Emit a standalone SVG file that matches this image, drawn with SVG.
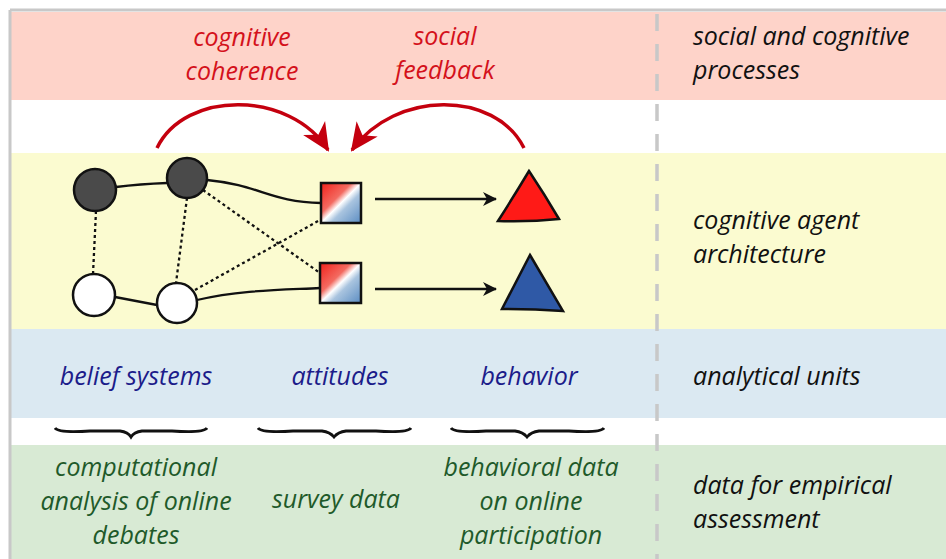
<svg xmlns="http://www.w3.org/2000/svg" width="946" height="559" viewBox="0 0 946 559">
<defs>
<style>
.t{font-family:"Open Sans","Liberation Sans",sans-serif;font-style:italic;font-size:25px}
.blk{fill:#111}
.red{fill:#d4111b}
.nav{fill:#1c1c8a}
.grn{fill:#1f5a2a}
.mid{text-anchor:middle}
.edge{fill:none;stroke:#111;stroke-width:2.3}
.dot{fill:none;stroke:#111;stroke-width:2.3;stroke-dasharray:3 3}
.node{stroke:#111;stroke-width:2.5}
.brace{fill:none;stroke:#111;stroke-width:2.8}
</style>
<linearGradient id="g" x1="0" y1="0" x2="1" y2="1">
<stop offset="0" stop-color="#f0201a"/>
<stop offset="0.38" stop-color="#f36a60"/>
<stop offset="0.5" stop-color="#ffffff"/>
<stop offset="0.62" stop-color="#a9c4df"/>
<stop offset="1" stop-color="#5a8cc2"/>
</linearGradient>
<marker id="ah" markerWidth="14" markerHeight="14" refX="13" refY="7" orient="auto" markerUnits="userSpaceOnUse">
<path d="M0,0 L14,7 L0,14 L4,7 Z" fill="#111"/>
</marker>
<marker id="rh" markerWidth="28" markerHeight="28" refX="26" refY="14" orient="auto" markerUnits="userSpaceOnUse">
<path d="M0,1 L28,14 L0,27 L8,14 Z" fill="#c4000e"/>
</marker>
</defs>
<g id="bands">
<rect x="0" y="0" width="946" height="559" fill="#ffffff"/>
<rect x="11" y="12" width="935" height="88" fill="#fed3c9"/>
<rect x="11" y="153" width="935" height="176" fill="#fbfbd0"/>
<rect x="11" y="329" width="935" height="89" fill="#dbe9f2"/>
<rect x="11" y="445" width="935" height="114" fill="#d8ead4"/>
<line x1="10" y1="10" x2="946" y2="10" stroke="#c8c8c8" stroke-width="3"/>
<line x1="10" y1="10" x2="10" y2="559" stroke="#c8c8c8" stroke-width="3"/>
<line x1="657" y1="14" x2="657" y2="559" stroke="#c8c8c8" stroke-width="3.5" stroke-dasharray="17 13"/>
</g>
<g id="labels-right">
<text class="t blk" x="693" y="45">social and cognitive</text>
<text class="t blk" x="693" y="79">processes</text>
<text class="t blk" x="693" y="229">cognitive agent</text>
<text class="t blk" x="693" y="263">architecture</text>
<text class="t blk" x="693" y="385">analytical units</text>
<text class="t blk" x="693" y="494">data for empirical</text>
<text class="t blk" x="693" y="528">assessment</text>
</g>
<g id="connectors">
<path class="edge" d="M116,187 Q140,184 167,183"/>
<path class="edge" d="M207,180 C260,185 270,202 321,203"/>
<path class="dot" d="M203,190 L320,273"/>
<path class="dot" d="M96,211 L93,274"/>
<path class="dot" d="M187,198 L176,283"/>
<path class="dot" d="M195,290 L320,220"/>
<path class="edge" d="M115,297 L157,305"/>
<path class="edge" d="M197,300 C240,290 280,290 320,288"/>
<line class="edge" x1="375" y1="199" x2="496" y2="199" marker-end="url(#ah)"/>
<line class="edge" x1="375" y1="289" x2="496" y2="289" marker-end="url(#ah)"/>
<path d="M157,148 C185,90 290,90 328,150" fill="none" stroke="#c4000e" stroke-width="3.5" marker-end="url(#rh)"/>
<path d="M524,148 C495,90 395,90 352,150" fill="none" stroke="#c4000e" stroke-width="3.5" marker-end="url(#rh)"/>
</g>
<g id="n-dark1"><circle class="node" cx="95" cy="190" r="21" fill="#4a4a4a"/></g>
<g id="n-dark2"><circle class="node" cx="187" cy="178" r="20" fill="#4a4a4a"/></g>
<g id="n-white1"><circle class="node" cx="94" cy="295" r="21" fill="#ffffff"/></g>
<g id="n-white2"><circle class="node" cx="177" cy="303" r="20" fill="#ffffff"/></g>
<g id="n-att1"><rect class="node" x="321" y="183" width="40" height="40" fill="url(#g)"/></g>
<g id="n-att2"><rect class="node" x="320" y="263" width="41" height="40" fill="url(#g)"/></g>
<g id="n-beh1"><path class="node" d="M529,171 Q545,195 559,219 Q530,222 498,221 Q514,196 529,171 Z" fill="#ff1a17"/></g>
<g id="n-beh2"><path class="node" d="M530,255 Q546,282 563,311 Q532,309 502,309 Q516,282 530,255 Z" fill="#2f59a6"/></g>
<g id="labels-red">
<text class="t red mid" x="242" y="46">cognitive</text>
<text class="t red mid" x="242" y="80">coherence</text>
<text class="t red mid" x="445" y="45">social</text>
<text class="t red mid" x="445" y="79">feedback</text>
</g>
<g id="labels-units">
<text class="t nav mid" x="136" y="385">belief systems</text>
<text class="t nav mid" x="340" y="385">attitudes</text>
<text class="t nav mid" x="529" y="385">behavior</text>
</g>
<g id="braces">
<path class="brace" d="M55,428 Q58,433 90,431 L120,431 Q128,432 131,437 Q134,432 142,431 L172,431 Q204,433 207,428"/>
<path class="brace" d="M258,428 Q261,433 293,431 L322,431 Q330,432 334,437 Q338,432 346,431 L376,431 Q408,433 411,428"/>
<path class="brace" d="M451,428 Q454,433 486,431 L515,431 Q523,432 527,437 Q531,432 539,431 L569,431 Q601,433 604,428"/>
</g>
<g id="labels-data">
<text class="t grn mid" x="136" y="476">computational</text>
<text class="t grn mid" x="136" y="510">analysis of online</text>
<text class="t grn mid" x="136" y="544">debates</text>
<text class="t grn mid" x="336" y="508">survey data</text>
<text class="t grn mid" x="531" y="476">behavioral data</text>
<text class="t grn mid" x="531" y="510">on online</text>
<text class="t grn mid" x="531" y="544">participation</text>
</g>
</svg>
